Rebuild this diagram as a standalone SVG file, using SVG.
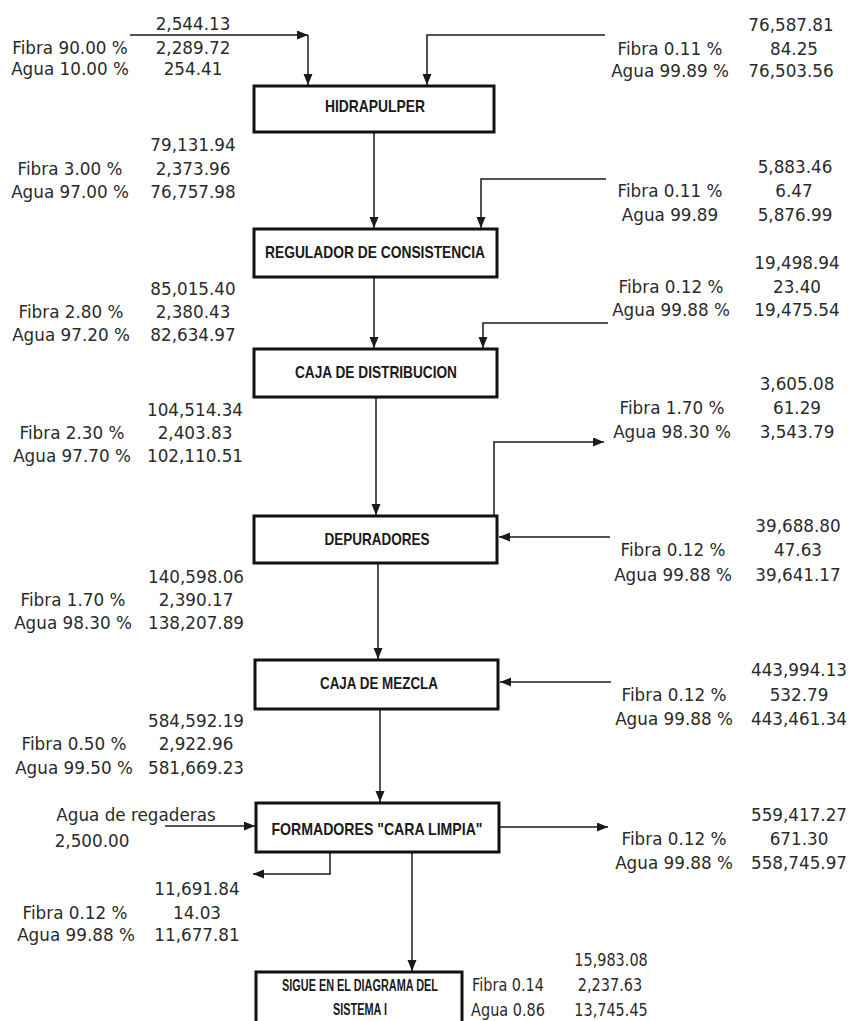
<svg xmlns="http://www.w3.org/2000/svg" width="854" height="1021" viewBox="0 0 854 1021">
  <style>
    .bg { fill: #ffffff; }
    .box { fill: #ffffff; stroke: #111111; stroke-width: 3; }
    .lbl { font-family: "Liberation Sans", Arial, sans-serif; font-weight: bold; font-size: 17px; fill: #1a1a1a; text-anchor: middle; }
    .lbl-sm { font-size: 16px; }
    .txt { font-family: "DejaVu Sans", "Liberation Sans", sans-serif; font-size: 16.8px; fill: #2a2a2a; text-anchor: middle; }
    .wire { fill: none; stroke: #1a1a1a; stroke-width: 1.5; }
    .arrow { marker-end: url(#head); }
  </style>
  <defs>
    <marker id="head" markerUnits="userSpaceOnUse" markerWidth="12" markerHeight="10" refX="11" refY="4.5" orient="auto">
      <path d="M0,0 L11,4.5 L0,9 z" fill="#1a1a1a"/>
    </marker>
  </defs>

  <rect class="bg" x="0" y="0" width="854" height="1021"/>

  <!-- flow connectors -->
  <g id="connectors">
    <path class="wire arrow" d="M130,35 H308"/>
    <path class="wire arrow" d="M308,35 V85"/>
    <path class="wire arrow" d="M605,35 H427 V85"/>
    <path class="wire arrow" d="M374,133 V228"/>
    <path class="wire arrow" d="M606,179 H481 V228"/>
    <path class="wire arrow" d="M374,278 V348"/>
    <path class="wire arrow" d="M608,323 H483 V348"/>
    <path class="wire arrow" d="M376,398 V515"/>
    <path class="wire arrow" d="M494,515 V442 H604"/>
    <path class="wire arrow" d="M610,537 H499"/>
    <path class="wire arrow" d="M378,564 V659"/>
    <path class="wire arrow" d="M611,682 H500"/>
    <path class="wire arrow" d="M380,710 V802"/>
    <path class="wire arrow" d="M165,826 H255"/>
    <path class="wire arrow" d="M499,827 H608"/>
    <path class="wire arrow" d="M330,853 V874 H253"/>
    <path class="wire arrow" d="M412,853 V971"/>
  </g>

  <!-- process units -->
  <g id="hidrapulper">
    <rect class="box" x="254" y="86" width="240" height="46"/>
    <text class="lbl" x="375" y="112" textLength="100" lengthAdjust="spacingAndGlyphs">HIDRAPULPER</text>
  </g>
  <g id="regulador">
    <rect class="box" x="254" y="229" width="243" height="48"/>
    <text class="lbl" x="375" y="258" textLength="220" lengthAdjust="spacingAndGlyphs">REGULADOR DE CONSISTENCIA</text>
  </g>
  <g id="caja-distribucion">
    <rect class="box" x="254" y="349" width="243" height="48"/>
    <text class="lbl" x="376" y="378" textLength="162" lengthAdjust="spacingAndGlyphs">CAJA DE DISTRIBUCION</text>
  </g>
  <g id="depuradores">
    <rect class="box" x="254" y="516" width="243" height="47"/>
    <text class="lbl" x="377" y="545" textLength="105" lengthAdjust="spacingAndGlyphs">DEPURADORES</text>
  </g>
  <g id="caja-mezcla">
    <rect class="box" x="255" y="660" width="243" height="49"/>
    <text class="lbl" x="379" y="689" textLength="118" lengthAdjust="spacingAndGlyphs">CAJA DE MEZCLA</text>
  </g>
  <g id="formadores">
    <rect class="box" x="256" y="803" width="243" height="49"/>
    <text class="lbl" x="377" y="835" textLength="211" lengthAdjust="spacingAndGlyphs">FORMADORES "CARA LIMPIA"</text>
  </g>
  <g id="sigue">
    <rect class="box" x="256" y="972" width="206" height="60"/>
    <!-- condensed two-line label -->
    <g transform="scale(0.68 1)">
      <text class="lbl lbl-sm" x="529.4" y="991">SIGUE EN EL DIAGRAMA DEL</text>
      <text class="lbl lbl-sm" x="529.4" y="1015">SISTEMA I</text>
    </g>
  </g>

  <!-- stream data, left side -->
  <g id="stream-fibra-entrada">
    <text class="txt" x="193" y="30">2,544.13</text>
    <text class="txt" x="70" y="54">Fibra 90.00 %</text>
    <text class="txt" x="193" y="54">2,289.72</text>
    <text class="txt" x="70" y="75">Agua 10.00 %</text>
    <text class="txt" x="193" y="75">254.41</text>
  </g>
  <g id="stream-hidrapulper">
    <text class="txt" x="193" y="151">79,131.94</text>
    <text class="txt" x="70" y="175">Fibra 3.00 %</text>
    <text class="txt" x="193" y="175">2,373.96</text>
    <text class="txt" x="70" y="198">Agua 97.00 %</text>
    <text class="txt" x="193" y="198">76,757.98</text>
  </g>
  <g id="stream-regulador">
    <text class="txt" x="193" y="295">85,015.40</text>
    <text class="txt" x="71" y="318">Fibra 2.80 %</text>
    <text class="txt" x="193" y="318">2,380.43</text>
    <text class="txt" x="71" y="341">Agua 97.20 %</text>
    <text class="txt" x="193" y="341">82,634.97</text>
  </g>
  <g id="stream-caja-distribucion">
    <text class="txt" x="195" y="416">104,514.34</text>
    <text class="txt" x="72" y="439">Fibra 2.30 %</text>
    <text class="txt" x="195" y="439">2,403.83</text>
    <text class="txt" x="72" y="462">Agua 97.70 %</text>
    <text class="txt" x="195" y="462">102,110.51</text>
  </g>
  <g id="stream-depuradores">
    <text class="txt" x="196" y="583">140,598.06</text>
    <text class="txt" x="73" y="606">Fibra 1.70 %</text>
    <text class="txt" x="196" y="606">2,390.17</text>
    <text class="txt" x="73" y="629">Agua 98.30 %</text>
    <text class="txt" x="196" y="629">138,207.89</text>
  </g>
  <g id="stream-caja-mezcla">
    <text class="txt" x="196" y="727">584,592.19</text>
    <text class="txt" x="74" y="750">Fibra 0.50 %</text>
    <text class="txt" x="196" y="750">2,922.96</text>
    <text class="txt" x="74" y="774">Agua 99.50 %</text>
    <text class="txt" x="196" y="774">581,669.23</text>
  </g>
  <g id="stream-regaderas">
    <text class="txt" x="136" y="821">Agua de regaderas</text>
    <text class="txt" x="92" y="847">2,500.00</text>
  </g>
  <g id="stream-formadores-inferior">
    <text class="txt" x="197" y="895">11,691.84</text>
    <text class="txt" x="75" y="919">Fibra 0.12 %</text>
    <text class="txt" x="197" y="919">14.03</text>
    <text class="txt" x="76" y="941">Agua 99.88 %</text>
    <text class="txt" x="197" y="941">11,677.81</text>
  </g>

  <!-- stream data, right side -->
  <g id="stream-agua-hidrapulper">
    <text class="txt" x="791" y="31">76,587.81</text>
    <text class="txt" x="670" y="55">Fibra 0.11 %</text>
    <text class="txt" x="794" y="55">84.25</text>
    <text class="txt" x="670" y="77">Agua 99.89 %</text>
    <text class="txt" x="791" y="77">76,503.56</text>
  </g>
  <g id="stream-agua-regulador">
    <text class="txt" x="795" y="173">5,883.46</text>
    <text class="txt" x="670" y="197">Fibra 0.11 %</text>
    <text class="txt" x="794" y="197">6.47</text>
    <text class="txt" x="670" y="221">Agua 99.89</text>
    <text class="txt" x="795" y="221">5,876.99</text>
  </g>
  <g id="stream-agua-caja">
    <text class="txt" x="797" y="269">19,498.94</text>
    <text class="txt" x="671" y="293">Fibra 0.12 %</text>
    <text class="txt" x="797" y="293">23.40</text>
    <text class="txt" x="671" y="316">Agua 99.88 %</text>
    <text class="txt" x="797" y="316">19,475.54</text>
  </g>
  <g id="stream-rechazo-depuradores">
    <text class="txt" x="797" y="390">3,605.08</text>
    <text class="txt" x="672" y="414">Fibra 1.70 %</text>
    <text class="txt" x="797" y="414">61.29</text>
    <text class="txt" x="672" y="438">Agua 98.30 %</text>
    <text class="txt" x="797" y="438">3,543.79</text>
  </g>
  <g id="stream-agua-depuradores">
    <text class="txt" x="798" y="532">39,688.80</text>
    <text class="txt" x="673" y="556">Fibra 0.12 %</text>
    <text class="txt" x="798" y="556">47.63</text>
    <text class="txt" x="673" y="581">Agua 99.88 %</text>
    <text class="txt" x="798" y="581">39,641.17</text>
  </g>
  <g id="stream-agua-mezcla">
    <text class="txt" x="799" y="676">443,994.13</text>
    <text class="txt" x="674" y="701">Fibra 0.12 %</text>
    <text class="txt" x="799" y="701">532.79</text>
    <text class="txt" x="674" y="725">Agua 99.88 %</text>
    <text class="txt" x="799" y="725">443,461.34</text>
  </g>
  <g id="stream-formadores-lateral">
    <text class="txt" x="799" y="821">559,417.27</text>
    <text class="txt" x="674" y="845">Fibra 0.12 %</text>
    <text class="txt" x="799" y="845">671.30</text>
    <text class="txt" x="674" y="869">Agua 99.88 %</text>
    <text class="txt" x="799" y="869">558,745.97</text>
  </g>
  <g id="stream-sigue" transform="scale(0.86 1)">
    <text class="txt" x="710.5" y="966">15,983.08</text>
    <text class="txt" x="590.7" y="991">Fibra 0.14</text>
    <text class="txt" x="709.3" y="991">2,237.63</text>
    <text class="txt" x="590.7" y="1016">Agua 0.86</text>
    <text class="txt" x="710.5" y="1016">13,745.45</text>
  </g>
</svg>
